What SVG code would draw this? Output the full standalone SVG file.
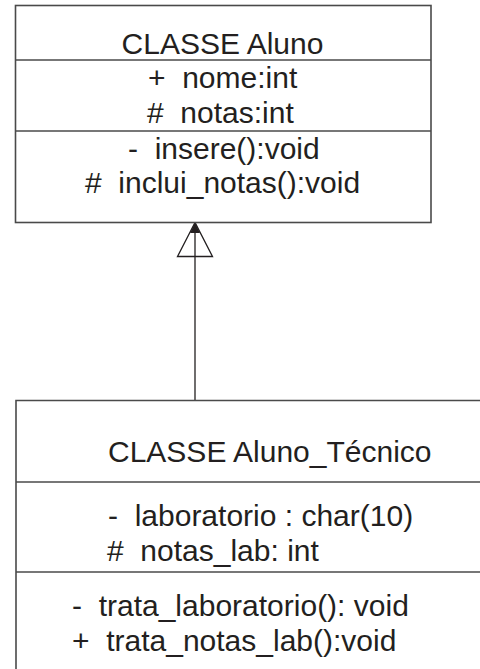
<svg xmlns="http://www.w3.org/2000/svg" width="480" height="669" viewBox="0 0 480 669">
<style>
.box{fill:#fff;stroke:#4a4a4a;stroke-width:1.6}
.div{stroke:#4a4a4a;stroke-width:1.6}
.t{font-family:"Liberation Sans",Arial,sans-serif;font-size:30px;fill:#231f20}
.c{text-anchor:middle}
.conn{stroke:#231f20;stroke-width:1.3;fill:none}
</style>
<rect width="480" height="669" fill="#fff"/>
<g id="connectors">
<line class="conn" x1="195" y1="257" x2="195" y2="400.5"/>
<polygon points="195,222.5 177.5,256.5 212.5,256.5" fill="#fff" stroke="#231f20" stroke-width="1.3"/>
<line class="conn" x1="195" y1="222.5" x2="195" y2="256.5"/>
<polygon points="195,222.5 190,233 200,233" fill="#231f20"/>
</g>
<g id="aluno">
<rect class="box" x="15.5" y="5.5" width="415.5" height="217"/>
<line class="div" x1="15.5" y1="60" x2="431" y2="60"/>
<line class="div" x1="15.5" y1="131" x2="431" y2="131"/>
<text class="t c" x="222.5" y="53.5">CLASSE Aluno</text>
<text class="t" x="148" y="87.5" xml:space="preserve">+  nome:int</text>
<text class="t" x="147" y="123" xml:space="preserve">#  notas:int</text>
<text class="t" x="128" y="158.5" xml:space="preserve">-  insere():void</text>
<text class="t" x="85" y="192.5" xml:space="preserve">#  inclui_notas():void</text>
</g>
<g id="aluno_tecnico">
<path class="box" d="M16,669 V400.5 H481"/>
<line class="div" x1="16" y1="482" x2="481" y2="482"/>
<line class="div" x1="16" y1="572" x2="481" y2="572"/>
<text class="t" x="108" y="461.5">CLASSE Aluno_Técnico</text>
<text class="t" x="108" y="525.5" xml:space="preserve">-  laboratorio : char(10)</text>
<text class="t" x="107" y="560.5" xml:space="preserve">#  notas_lab: int</text>
<text class="t" x="72" y="615.5" xml:space="preserve">-  trata_laboratorio(): void</text>
<text class="t" x="72" y="650.5" xml:space="preserve">+  trata_notas_lab():void</text>
</g>
</svg>
